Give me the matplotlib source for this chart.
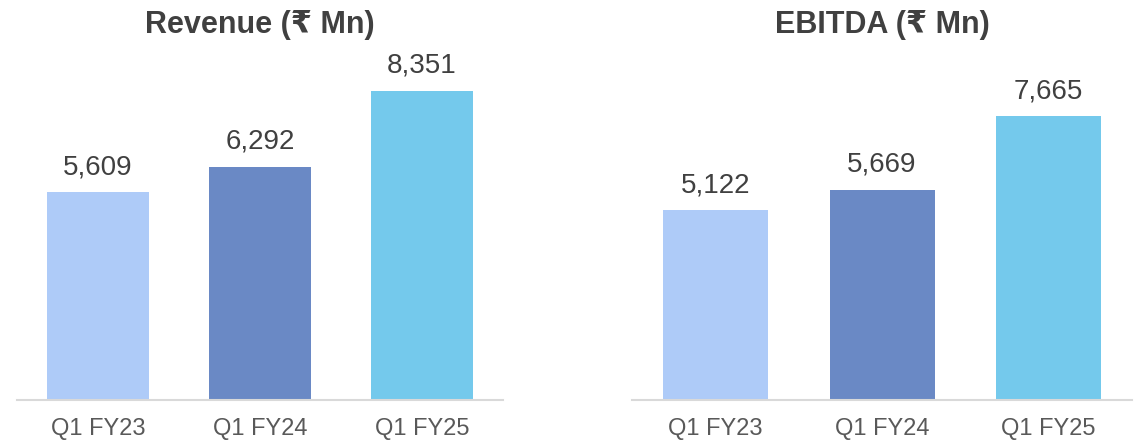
import matplotlib.pyplot as plt

# Data
quarters = ['Q1 FY23', 'Q1 FY24', 'Q1 FY25']
revenue = [5609, 6292, 8351]
ebitda = [5122, 5669, 7665]
titles = ['Revenue (₹ Mn)', 'EBITDA (₹ Mn)']
bar_colors = ['#AECBF8', '#6A89C5', '#74C9EC']

plt.rcParams['font.family'] = ['Liberation Sans', 'DejaVu Sans']

W, H = 1137, 441
fig = plt.figure(figsize=(W / 100, H / 100), dpi=100)
ax1 = fig.add_axes([17 / W, 41 / H, 486 / W, 350 / H])
ax2 = fig.add_axes([632 / W, 41 / H, 500 / W, 350 / H])

for ax, vals, title in zip([ax1, ax2], [revenue, ebitda], titles):
    xs = range(len(quarters))
    ax.bar(xs, vals, width=0.63, color=bar_colors)
    for x, v in zip(xs, vals):
        ax.annotate(f'{v:,}', (x, v), xytext=(0, 13), textcoords='offset points',
                    ha='center', va='baseline', fontsize=20, color='#404040')
    ax.set_xlim(-0.5, 2.5)
    ax.set_ylim(0, 9450)
    ax.set_xticks(list(xs))
    ax.set_xticklabels(quarters, fontsize=17, color='#595959')
    ax.tick_params(axis='x', length=0, pad=13)
    ax.set_yticks([])
    for s in ['top', 'right', 'left']:
        ax.spines[s].set_visible(False)
    ax.spines['bottom'].set_color('#D9D9D9')
    ax.spines['bottom'].set_linewidth(1.5)
    # title centred over its panel
    bb = ax.get_position()
    fig.text((bb.x0 + bb.x1) / 2, 1 - 33 / H, title, ha='center', va='baseline',
             fontsize=22, fontweight='bold', color='#404040')

fig.savefig('out.png', dpi=100)
